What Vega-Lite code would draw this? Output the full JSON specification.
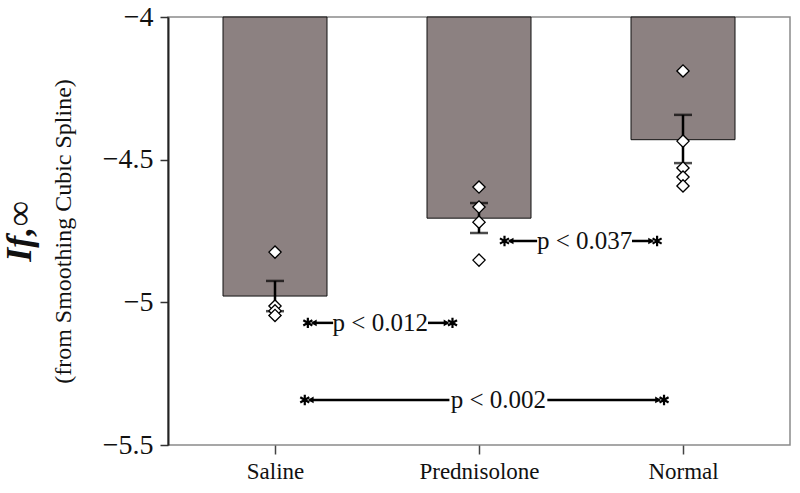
{
  "$schema": "https://vega.github.io/schema/vega-lite/v6.json",
  "width": 622,
  "height": 428,
  "autosize": {"type": "none"},
  "padding": {"left": 168, "top": 17, "right": 10, "bottom": 48},
  "background": "white",
  "config": {
    "view": {"stroke": "#8a8a8a", "strokeWidth": 1.5},
    "font": "Liberation Serif"
  },
  "datasets": {
    "bars": [
      {"group": "Saline", "pos": 1, "mean": -4.978, "lo": -5.031, "hi": -4.925},
      {"group": "Prednisolone", "pos": 2, "mean": -4.705, "lo": -4.757, "hi": -4.652},
      {"group": "Normal", "pos": 3, "mean": -4.43, "lo": -4.512, "hi": -4.343}
    ],
    "points": [
      {"pos": 1, "v": -4.824}, {"pos": 1, "v": -5.013}, {"pos": 1, "v": -5.03}, {"pos": 1, "v": -5.046},
      {"pos": 2, "v": -4.596}, {"pos": 2, "v": -4.666}, {"pos": 2, "v": -4.719}, {"pos": 2, "v": -4.852},
      {"pos": 3, "v": -4.189}, {"pos": 3, "v": -4.435}, {"pos": 3, "v": -4.529}, {"pos": 3, "v": -4.561}, {"pos": 3, "v": -4.592}
    ],
    "segments": [
      {"y": -5.072, "a": 1.185, "b": 1.285},
      {"y": -5.072, "a": 1.75, "b": 1.845},
      {"y": -4.785, "a": 2.15, "b": 2.285},
      {"y": -4.785, "a": 2.75, "b": 2.85},
      {"y": -5.342, "a": 1.17, "b": 1.855},
      {"y": -5.342, "a": 2.335, "b": 2.885}
    ],
    "stars": [
      {"y": -5.072, "x": 1.161}, {"y": -5.072, "x": 1.870},
      {"y": -4.785, "x": 2.125}, {"y": -4.785, "x": 2.873},
      {"y": -5.342, "x": 1.146}, {"y": -5.342, "x": 2.907}
    ],
    "arrowsL": [
      {"y": -5.072, "x": 1.19}, {"y": -4.785, "x": 2.155}, {"y": -5.342, "x": 1.175}
    ],
    "arrowsR": [
      {"y": -5.072, "x": 1.841}, {"y": -4.785, "x": 2.844}, {"y": -5.342, "x": 2.878}
    ],
    "labels": [
      {"y": -5.072, "x": 1.516, "label": "p < 0.012"},
      {"y": -4.785, "x": 2.518, "label": "p < 0.037"},
      {"y": -5.342, "x": 2.095, "label": "p < 0.002"}
    ]
  },
  "layer": [
    {
      "data": {"name": "bars"},
      "mark": {"type": "bar", "width": 104, "fill": "#8c8181", "stroke": "#111", "strokeWidth": 1},
      "encoding": {
        "x": {
          "field": "pos", "type": "quantitative",
          "scale": {"domain": [0.5, 3.5], "nice": false, "zero": false},
          "axis": {
            "values": [1, 2, 3], "title": null, "grid": false, "domain": false,
            "labelExpr": "datum.value == 1 ? 'Saline' : datum.value == 2 ? 'Prednisolone' : 'Normal'",
            "labelFont": "Liberation Serif", "labelFontSize": 23, "labelColor": "#111",
            "tickSize": 9, "tickColor": "#444", "tickWidth": 1.5, "labelPadding": 6
          }
        },
        "y": {
          "field": "mean", "type": "quantitative",
          "scale": {"domain": [-5.5, -4], "nice": false, "zero": false},
          "axis": {
            "values": [-5.5, -5, -4.5, -4], "grid": false,
            "labelExpr": "datum.value == -4 ? '\u22124' : datum.value == -4.5 ? '\u22124.5' : datum.value == -5 ? '\u22125' : '\u22125.5'",
            "title": "(from Smoothing Cubic Spline)",
            "titleFont": "Liberation Serif", "titleFontSize": 24, "titleFontWeight": "normal",
            "titleColor": "#111", "titlePadding": 27,
            "labelFont": "Liberation Serif", "labelFontSize": 28, "labelColor": "#111",
            "domainColor": "#222", "domainWidth": 2,
            "tickSize": 8, "tickColor": "#333", "tickWidth": 1.5, "labelPadding": 7
          }
        },
        "y2": {"datum": -4}
      }
    },
    {
      "data": {"name": "bars"},
      "mark": {"type": "errorbar", "ticks": {"size": 18, "thickness": 2.5, "color": "black"}, "rule": {"strokeWidth": 2.5, "color": "black"}},
      "encoding": {
        "x": {"field": "pos", "type": "quantitative"},
        "y": {"field": "lo", "type": "quantitative", "axis": null},
        "y2": {"field": "hi"}
      }
    },
    {
      "data": {"name": "points"},
      "mark": {"type": "point", "shape": "diamond", "size": 150, "filled": true, "fill": "white", "stroke": "black", "strokeWidth": 1.3, "opacity": 1},
      "encoding": {
        "x": {"field": "pos", "type": "quantitative"},
        "y": {"field": "v", "type": "quantitative", "axis": null}
      }
    },
    {
      "data": {"name": "segments"},
      "mark": {"type": "rule", "strokeWidth": 2.5, "color": "black"},
      "encoding": {
        "x": {"field": "a", "type": "quantitative"},
        "x2": {"field": "b"},
        "y": {"field": "y", "type": "quantitative", "axis": null}
      }
    },
    {
      "data": {"name": "arrowsL"},
      "mark": {"type": "point", "shape": "triangle-left", "size": 45, "filled": true, "color": "black", "opacity": 1},
      "encoding": {
        "x": {"field": "x", "type": "quantitative"},
        "y": {"field": "y", "type": "quantitative", "axis": null}
      }
    },
    {
      "data": {"name": "arrowsR"},
      "mark": {"type": "point", "shape": "triangle-right", "size": 45, "filled": true, "color": "black", "opacity": 1},
      "encoding": {
        "x": {"field": "x", "type": "quantitative"},
        "y": {"field": "y", "type": "quantitative", "axis": null}
      }
    },
    {
      "data": {"name": "stars"},
      "mark": {"type": "point", "shape": "M0,-1L0,1M-0.866,-0.5L0.866,0.5M-0.866,0.5L0.866,-0.5", "size": 110, "filled": false, "stroke": "black", "strokeWidth": 2.2, "opacity": 1},
      "encoding": {
        "x": {"field": "x", "type": "quantitative"},
        "y": {"field": "y", "type": "quantitative", "axis": null}
      }
    },
    {
      "data": {"name": "labels"},
      "mark": {"type": "text", "font": "Liberation Serif", "fontSize": 25, "color": "#111", "align": "center", "baseline": "middle"},
      "encoding": {
        "x": {"field": "x", "type": "quantitative"},
        "y": {"field": "y", "type": "quantitative", "axis": {
          "title": "If,∞", "labels": false, "ticks": false, "domain": false, "grid": false, "orient": "left",
          "titleFont": "Liberation Serif", "titleFontSize": 36, "titleFontStyle": "italic", "titleFontWeight": "bold",
          "titleColor": "#111", "titlePadding": 130
        }},
        "text": {"field": "label"}
      }
    }
  ],
  "resolve": {"axis": {"y": "independent"}}
}
